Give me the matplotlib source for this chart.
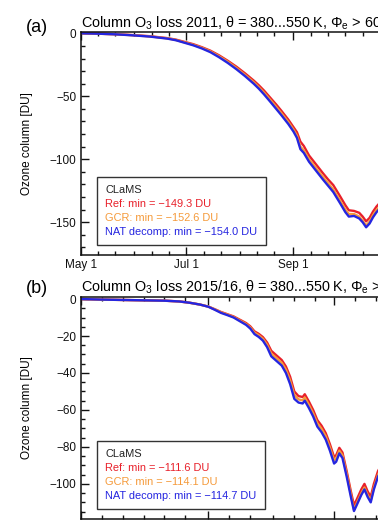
import numpy as np
import pandas as pd
import matplotlib
matplotlib.use("Agg")
import matplotlib.pyplot as plt
import matplotlib.dates as mdates
from matplotlib.ticker import MultipleLocator, FuncFormatter
from matplotlib.lines import Line2D

plt.rcParams['font.family'] = ['Liberation Sans', 'DejaVu Sans']
plt.rcParams['mathtext.fontset'] = 'custom'
plt.rcParams['mathtext.rm'] = 'Liberation Sans'
plt.rcParams['mathtext.it'] = 'Liberation Sans:italic'

# panel (a): 2011, days after May 1
days_a = [0, 10, 20, 30, 40, 50, 55, 60, 65, 70, 75, 80, 85, 90, 95, 100, 103, 106, 110, 113,
          116, 120, 123, 125, 127, 129, 132, 136, 140, 143, 146, 150, 153, 155, 158, 161, 163,
          165, 167, 169, 171, 175]
ref_a = [0, -0.3, -0.7, -1.4, -2.3, -3.8, -5, -6.8, -8.6, -11, -13.8, -17.5, -21.8, -26.5, -31.8,
         -37.5, -41.3, -45.5, -51.8, -56.5, -61.5, -68.5, -74.5, -78.5, -86, -89.5, -97, -104,
         -111, -116, -120.5, -129.5, -136.5, -140.5, -141, -142.5, -145.5, -149.3, -146.5,
         -141.5, -137.5, -131.5]
gcr_a = [0, -0.3, -0.8, -1.5, -2.5, -4, -5.3, -7.2, -9.1, -11.5, -14.4, -18.2, -22.6, -27.5, -33,
         -38.8, -42.8, -47.1, -53.5, -58.4, -63.4, -70.4, -76.5, -81.2, -90, -93, -100, -107,
         -114, -119, -124, -133, -140, -143.5, -143.5, -145.5, -148.8, -152.6, -149.5, -144.3,
         -140.3, -134.5]
nat_a = [0, -0.3, -0.8, -1.6, -2.6, -4.2, -5.5, -7.5, -9.5, -12, -15, -19, -23.5, -28.5, -34,
         -40, -44, -48.5, -55, -60, -65, -72, -78, -83, -92, -95, -102, -109, -116, -121, -126,
         -135, -142, -145.5, -145, -147, -150, -154, -151, -146, -142, -136]

# panel (b): 2015/16, days after Nov 1
days_b = [0, 10, 20, 30, 40, 47, 52, 57, 61, 64, 67, 70, 73, 76, 79, 81, 83, 85, 87, 89, 91, 93,
          96, 98, 100, 102, 104, 106, 107, 109, 111, 113, 115, 117, 119, 121, 122, 123.5, 125,
          127, 129, 130.5, 132, 134, 135.5, 137, 138.5, 140, 142, 145]
ref_b = [0, -0.3, -0.5, -0.7, -0.9, -1.3, -2, -3, -4.1, -5.5, -7, -8.2, -9.4, -11.2, -13, -14.8,
         -17.5, -18.8, -20.6, -23.5, -28, -30, -33, -36.5, -42, -50, -52.5, -53, -51.5, -55.5,
         -60, -65.5, -68.5, -72.5, -78.5, -85.5, -84.5, -80.5, -83, -93, -104, -111.6, -108,
         -103, -100, -104, -107, -100, -93, -87]
gcr_b = [0, -0.3, -0.5, -0.7, -0.9, -1.3, -2, -3, -4.1, -5.6, -7.2, -8.4, -9.7, -11.6, -13.5,
         -15.4, -18.2, -19.6, -21.5, -24.7, -29.5, -31.5, -34.5, -38.2, -44, -52, -54.3, -54.8,
         -53.3, -57.3, -61.8, -67.2, -70.2, -74.2, -80.2, -87.2, -86.2, -82, -84.5, -94.5,
         -105.5, -114.1, -110, -105, -102, -106, -109, -102, -95, -89]
nat_b = [0, -0.3, -0.5, -0.7, -0.9, -1.3, -2, -3, -4.2, -5.8, -7.5, -8.7, -10, -12, -14, -16,
         -19, -20.5, -22.5, -26, -31, -33, -36, -40, -46, -54, -56, -56.5, -55, -59, -63.5, -69,
         -72, -76, -82, -89, -88, -83.5, -86, -96, -107, -114.7, -111, -106, -103, -107, -110,
         -103, -96, -90]

series_names = ["Ref", "GCR", "NAT decomp"]
colors = ["#e8202a", "#f59a3a", "#2525e0"]

W, H = 378, 524
fig = plt.figure(figsize=(W / 100, H / 100), dpi=100)


def px_axes(left, top, right, bottom):
    return fig.add_axes([left / W, 1 - bottom / H, (right - left) / W, (bottom - top) / H])


def date_label(x, pos):
    d = mdates.num2date(x)
    return f"{d:%b} {d.day}"


def draw_panel(ax, start, end, days, curves, ylim, ymaj, ymin, major_months, title, letter,
               letter_y, leg_anchor, xpad):
    t0 = pd.Timestamp(start)
    dates = t0 + pd.to_timedelta(np.array(days, dtype=float), unit="D")
    for vals, c in zip(curves, colors):
        ax.plot(dates, vals, color=c, lw=1.7, solid_joinstyle="round")

    ax.set_xlim(pd.Timestamp(start), pd.Timestamp(end))
    ax.set_ylim(*ylim)
    ax.xaxis.set_major_locator(mdates.MonthLocator(bymonth=major_months, bymonthday=1))
    ax.xaxis.set_minor_locator(mdates.DayLocator(bymonthday=[1, 11, 21]))
    ax.xaxis.set_major_formatter(FuncFormatter(date_label))
    ax.yaxis.set_major_locator(MultipleLocator(ymaj))
    ax.yaxis.set_minor_locator(MultipleLocator(ymin))
    ax.tick_params(which="both", direction="in", top=True, right=True, width=1.0,
                   labelsize=8.5, colors="#111111")
    ax.tick_params(which="major", length=5.5, pad=3)
    ax.tick_params(axis="x", which="major", pad=xpad)
    ax.tick_params(which="minor", length=3)
    for s in ax.spines.values():
        s.set_linewidth(1.1)
        s.set_color("#111111")

    ax.set_ylabel("Ozone column [DU]", fontsize=8.5)
    ax.yaxis.set_label_coords(-0.15, 0.5)
    ax.set_title(title, loc="left", fontsize=10.4, pad=3.6)
    fig.text(36.5 / W, letter_y, letter, fontsize=13, ha="center", va="center")

    labels = [f"{n}: min = \u2212{-min(v):.1f} DU" for n, v in zip(series_names, curves)]
    handles = [Line2D([], [], lw=0) for _ in labels]
    leg = ax.legend(handles, labels, title="CLaMS", loc="lower left",
                    bbox_to_anchor=leg_anchor, borderaxespad=0, handlelength=0,
                    handletextpad=0, labelcolor=colors, fancybox=False, edgecolor="#333333",
                    framealpha=1, fontsize=7.9, title_fontsize=7.9, alignment="left",
                    borderpad=0.75, labelspacing=0.35)
    leg.get_frame().set_linewidth(1.0)
    leg.get_title().set_color("#222222")


ax_a = px_axes(80.7, 32.3, 399, 255)
draw_panel(ax_a, "2011-05-01", "2011-11-01", days_a, [ref_a, gcr_a, nat_a], (-176, 0.8), 50, 10,
           [5, 7, 9, 11],
           "Column O$_3$ loss 2011, \u03b8 = 380...550\u2009K, \u03a6$_\\mathrm{e}$ > 60\u00b0S",
           "(a)", 1 - 27.5 / H, (0.051, 0.045), 3)

ax_b = px_axes(80.7, 297, 399, 519)
draw_panel(ax_b, "2015-11-01", "2016-04-01", days_b, [ref_b, gcr_b, nat_b], (-119, 1.1), 20, 5,
           [11, 1, 3],
           "Column O$_3$ loss 2015/16, \u03b8 = 380...550\u2009K, \u03a6$_\\mathrm{e}$ > 70\u00b0N",
           "(b)", 1 - 288.5 / H, (0.051, 0.045), 5)

fig.savefig("out.png", dpi=100)
